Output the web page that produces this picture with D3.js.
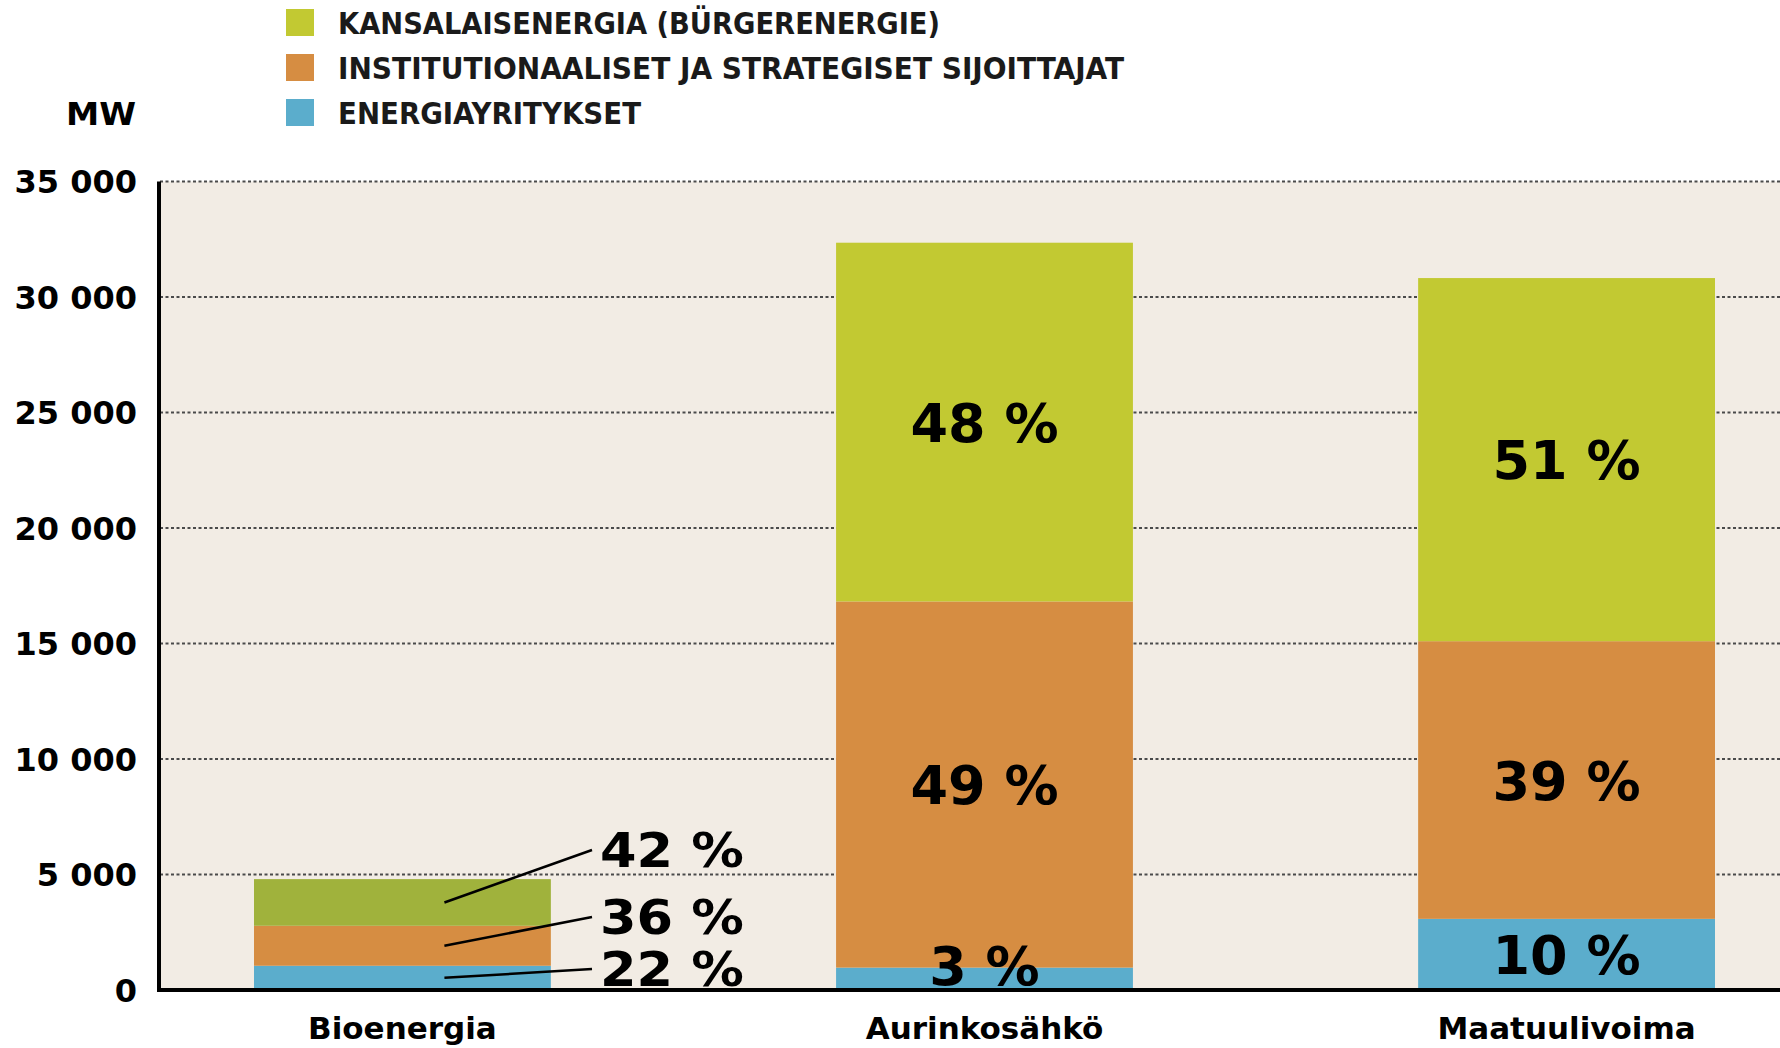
<!DOCTYPE html>
<html>
<head>
<meta charset="utf-8">
<script src="https://cdn.jsdelivr.net/npm/d3@7"></script>
<style>
  html, body { margin: 0; padding: 0; background: #fff; }
  svg { display: block; }
</style>
</head>
<body>
<div id="chart"></div>
<script>
var categories = ['Bioenergia', 'Aurinkosähkö', 'Maatuulivoima'];
var seriesNames = ['ENERGIAYRITYKSET', 'INSTITUTIONAALISET JA STRATEGISET SIJOITTAJAT', 'KANSALAISENERGIA (BÜRGERENERGIE)'];
// MW per group
var energiayritykset = [1050, 970, 3080];
var institutionaaliset = [1730, 15850, 12020];
var kansalaisenergia = [2020, 15530, 15720];
// share labels as printed
var pctEnergia = ['22 %', '3 %', '10 %'];
var pctInstit = ['36 %', '49 %', '39 %'];
var pctKansa = ['42 %', '48 %', '51 %'];
var yTicks = [0, 5000, 10000, 15000, 20000, 25000, 30000, 35000];

(function() {
  var W = 1780, H = 1048;
  var colors = ['#5badcc', '#d68d42', '#c2c932'];
  var bioGreen = '#a0b23c';

  var svg = d3.select('#chart').append('svg')
    .attr('width', W)
    .attr('height', H);

  var y = d3.scaleLinear().domain([0, 35000]).range([990, 181.5]);
  var x = d3.scaleBand()
    .domain(categories)
    .range([254, 1715])
    .paddingInner(0.49)
    .paddingOuter(0);

  // plot background
  svg.append('rect')
    .attr('x', 159).attr('y', y(35000))
    .attr('width', W - 159).attr('height', y(0) - y(35000))
    .style('fill', '#f2ece4');

  // gridlines
  svg.append('g')
    .selectAll('line')
    .data(yTicks.filter(function(d) { return d > 0; }))
    .join('line')
    .attr('x1', 160).attr('x2', W)
    .attr('y1', function(d) { return y(d); })
    .attr('y2', function(d) { return y(d); })
    .style('stroke', '#4a4a4a')
    .style('stroke-width', 1.8)
    .style('stroke-dasharray', '3 2.5');

  // stacked bars
  var rows = categories.map(function(c, i) {
    return { cat: c, e: energiayritykset[i], s: institutionaaliset[i], k: kansalaisenergia[i] };
  });
  var stack = d3.stack().keys(['e', 's', 'k'])(rows);

  svg.append('g')
    .selectAll('g')
    .data(stack)
    .join('g')
    .each(function(layer, li) {
      d3.select(this).selectAll('rect')
        .data(layer)
        .join('rect')
        .attr('x', function(d) { return x(d.data.cat); })
        .attr('width', x.bandwidth())
        .attr('y', function(d) { return y(d[1]); })
        .attr('height', function(d) { return y(d[0]) - y(d[1]); })
        .style('fill', function(d, i) { return (li == 2 && i == 0) ? bioGreen : colors[li]; });
    });

  // axes lines
  svg.append('line')
    .attr('x1', 159).attr('x2', 159)
    .attr('y1', y(35000)).attr('y2', y(0) + 2)
    .style('stroke', '#000').style('stroke-width', 4);
  svg.append('line')
    .attr('x1', 157).attr('x2', W)
    .attr('y1', y(0)).attr('y2', y(0))
    .style('stroke', '#000').style('stroke-width', 4);

  // y tick labels
  var fmt = function(d) { return d3.format(',')(d).replace(',', ' '); };
  svg.append('g')
    .selectAll('text')
    .data(yTicks)
    .join('text')
    .attr('x', 137)
    .attr('y', function(d) { return y(d) + 11.5; })
    .attr('text-anchor', 'end')
    .style('font-family', 'DejaVu Sans')
    .style('font-weight', 'bold')
    .style('font-size', '32px')
    .text(fmt);

  svg.append('text')
    .attr('x', 66).attr('y', 125)
    .attr('textLength', 70)
    .attr('lengthAdjust', 'spacingAndGlyphs')
    .style('font-family', '"Liberation Sans Narrow", "DejaVu Sans Condensed", sans-serif')
    .style('font-weight', 'bold')
    .style('font-size', '32px')
    .text('MW');

  // category labels
  svg.append('g')
    .selectAll('text')
    .data(categories)
    .join('text')
    .attr('x', function(d) { return x(d) + x.bandwidth() / 2; })
    .attr('y', 1039)
    .attr('text-anchor', 'middle')
    .style('font-family', 'DejaVu Sans')
    .style('font-weight', 'bold')
    .style('font-size', '31px')
    .text(function(d) { return d; });

  // percent labels inside bars (all but first group)
  var pcts = [pctEnergia, pctInstit, pctKansa];
  var fs = 54;
  stack.forEach(function(layer, li) {
    layer.forEach(function(d, i) {
      if (i == 0) return;
      var mid = (y(d[0]) + y(d[1])) / 2;
      var cy = Math.min(mid, y(0) - 25);
      svg.append('text')
        .attr('x', x(d.data.cat) + x.bandwidth() / 2)
        .attr('y', cy + fs * 0.365)
        .attr('text-anchor', 'middle')
        .style('font-family', 'DejaVu Sans')
        .style('font-weight', 'bold')
        .style('font-size', fs + 'px')
        .text(pcts[li][i]);
    });
  });

  // Bioenergia labels with leader lines
  var bioOffsets = [22, 74, 141];
  var bio = categories[0];
  stack.forEach(function(layer, li) {
    var d = layer[0];
    var mid = (y(d[0]) + y(d[1])) / 2;
    var ly = y(0) - bioOffsets[li];
    svg.append('line')
      .attr('x1', x(bio) + x.bandwidth() / 2 + 42)
      .attr('y1', mid)
      .attr('x2', 592)
      .attr('y2', ly + 1)
      .style('stroke', '#000')
      .style('stroke-width', 2.5);
    svg.append('text')
      .attr('x', 600)
      .attr('y', ly + 48 * 0.365)
      .attr('textLength', 144)
      .attr('lengthAdjust', 'spacingAndGlyphs')
      .style('font-family', 'DejaVu Sans')
      .style('font-weight', 'bold')
      .style('font-size', '48px')
      .text(pcts[li][0]);
  });

  // legend
  var legendOrder = [2, 1, 0];
  var legendLen = [602, 786, 303];
  var lg = svg.append('g');
  legendOrder.forEach(function(si, j) {
    var top = 9 + j * 45;
    lg.append('rect')
      .attr('x', 286).attr('y', top)
      .attr('width', 28).attr('height', 27)
      .style('fill', colors[si]);
    lg.append('text')
      .attr('x', 338).attr('y', top + 25)
      .attr('textLength', legendLen[j])
      .attr('lengthAdjust', 'spacingAndGlyphs')
      .style('font-family', '"Liberation Sans Narrow", "DejaVu Sans Condensed", sans-serif')
      .style('font-weight', 'bold')
      .style('font-size', '30px')
      .style('fill', '#1a1a1a')
      .text(seriesNames[si]);
  });
})();
</script>
</body>
</html>
